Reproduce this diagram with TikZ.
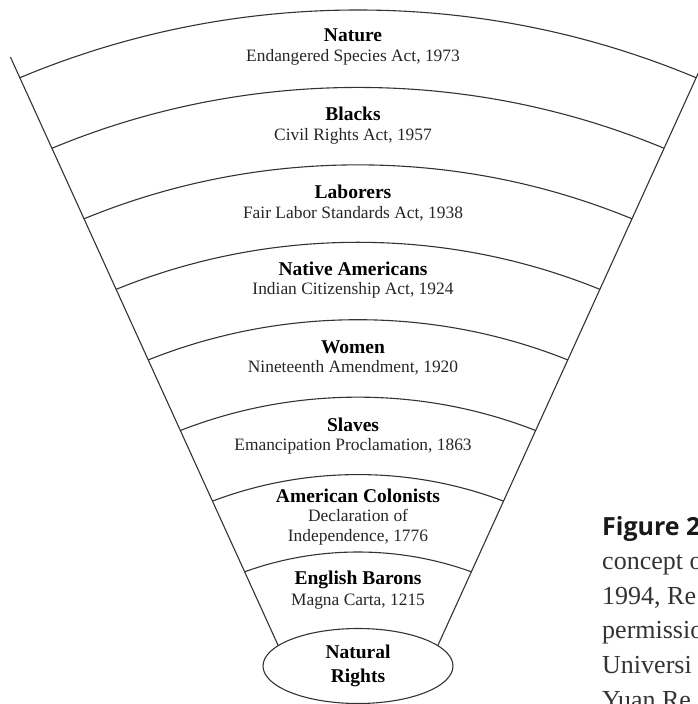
\documentclass[tikz,border=0pt]{standalone}
\usepackage{fontspec}
\setmainfont{Liberation Serif}
\newfontfamily\capsans{Open Sans}
\usetikzlibrary{shapes.geometric}
\begin{document}
\begin{tikzpicture}[x=1pt,y=-1pt,
  rim/.style={line width=1.1pt, draw=black!80},
  group/.style={font=\fontsize{19.5}{22}\selectfont\bfseries, text=black, inner sep=0pt, align=center},
  act/.style={font=\fontsize{17.4}{20}\selectfont, text=black!85, inner sep=0pt, align=center},
  capline/.style={anchor=base west, inner sep=0pt, font=\fontsize{26}{30}\selectfont, text=black!80}]
\useasboundingbox (0,0) rectangle (697,704);

% geometry of the fan
\coordinate (apex) at (358,821);
\coordinate (hub) at (358,885);
\coordinate (tl) at (10.4,57);
\coordinate (tr) at (705.6,57);
\coordinate (bl) at (287.5,666);
\coordinate (br) at (428.5,666);

% concentric band boundaries, trimmed to the wedge
\begin{scope}
  \clip (-61,-100) -- (bl) -- (br) -- (777,-100) -- cycle;
  \foreach \i in {0,...,7}
    \draw[rim] (hub) circle[radius={875-77.43*\i}];
\end{scope}

% sides of the fan
\draw[rim] (tl) -- (bl);
\draw[rim] (tr) -- (br);

% root of the fan
\node[ellipse, rim, fill=white, minimum width=190pt, minimum height=75pt, inner sep=0pt,
      align=center, font=\fontsize{19.5}{24}\selectfont\bfseries] (root) at (358,666) {Natural\\Rights};

% band labels
\node[group] (g1) at (353,35) {Nature};
\node[act]   (a1) at (353,57.5) {Endangered Species Act, 1973};
\node[group] (g2) at (353,114) {Blacks};
\node[act]   (a2) at (353,136.5) {Civil Rights Act, 1957};
\node[group] (g3) at (353,192) {Laborers};
\node[act]   (a3) at (353,213.5) {Fair Labor Standards Act, 1938};
\node[group] (g4) at (353,269) {Native Americans};
\node[act]   (a4) at (353,290) {Indian Citizenship Act, 1924};
\node[group] (g5) at (353,347) {Women};
\node[act]   (a5) at (353,368) {Nineteenth Amendment, 1920};
\node[group] (g6) at (353,425) {Slaves};
\node[act]   (a6) at (353,446.5) {Emancipation Proclamation, 1863};
\node[group] (g7) at (358,496) {American Colonists};
\node[act]   (a7) at (358,527.5) {Declaration of\\Independence, 1776};
\node[group] (g8) at (358,580) {English Barons};
\node[act]   (a8) at (358,601.5) {Magna Carta, 1215};

% caption running off the right edge
\begin{scope}
  \clip (0,0) rectangle (697,704);
  \node[anchor=base west, inner sep=0pt, text=black!90,
        font={\capsans\bfseries\fontsize{25}{30}\selectfont}] (fig) at (602,535) {Figure 2};
  \node[capline] (c1) at (602,569) {concept o};
  \node[capline] (c2) at (602,604) {1994, Re};
  \node[capline] (c3) at (602,638) {permissio};
  \node[capline] (c4) at (602,673) {Universi};
  \node[capline] (c5) at (602,708) {Yuan Re};
\end{scope}
\end{tikzpicture}
\end{document}
